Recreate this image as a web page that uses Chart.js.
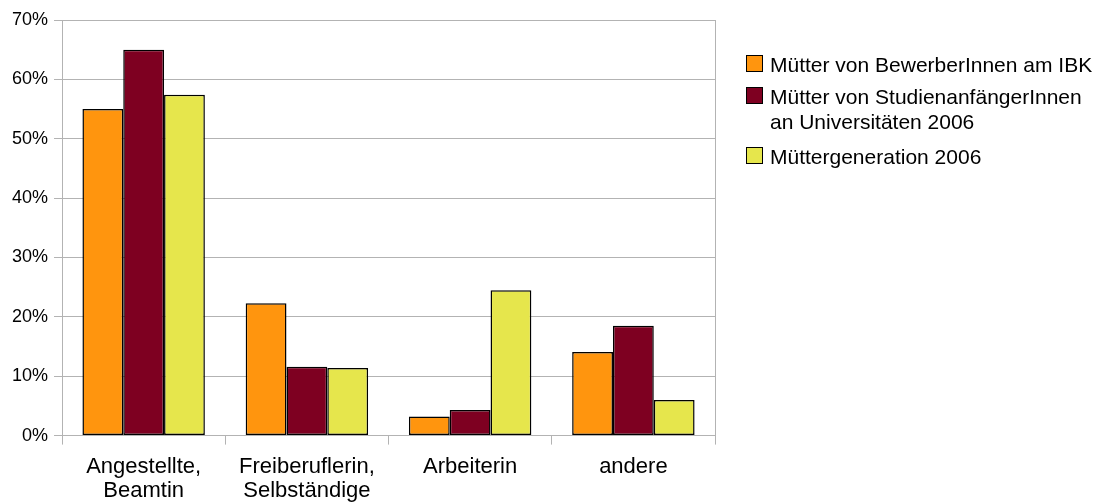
<!DOCTYPE html>
<html>
<head>
<meta charset="utf-8">
<script src="https://cdn.jsdelivr.net/npm/chart.js@4/dist/chart.umd.min.js"></script>
<style>
  body { margin: 0; background: #fff; }
  #wrap { position: relative; width: 1100px; height: 502px; }
  #legend {
    position: absolute; left: 746px; top: 52px;
    font-family: "Liberation Sans", Arial, sans-serif; font-size: 21px; line-height: 25px; color: #000;
  }
  .row { position: relative; padding-left: 24px; }
  .row + .row { margin-top: 7px; }
  .row:last-child { margin-top: 10px; }
  .box { position: absolute; left: 0; top: 3px; width: 17px; height: 17px; border: 1.5px solid #000; box-sizing: border-box; }
</style>
</head>
<body>
<div id="wrap">
  <canvas id="chart"></canvas>
  <div id="legend"></div>
</div>
<script>
const categories = [['Angestellte,', 'Beamtin'], ['Freiberuflerin,', 'Selbständige'], 'Arbeiterin', 'andere'];
const seriesNames = [
  ['Mütter von BewerberInnen am IBK'],
  ['Mütter von StudienanfängerInnen', 'an Universitäten 2006'],
  ['Müttergeneration 2006']
];
const bewerberinnen = [55.0, 22.3, 3.2, 14.1];
const studienanfaenger = [65.0, 11.6, 4.3, 18.5];
const muettergeneration = [57.4, 11.4, 24.5, 6.0];
const colors = ['#ff950e', '#7e0021', '#e6e64c'];

const gridColor = '#b3b3b3';
const font = { family: '"Liberation Sans", Arial, sans-serif' };

// right border of the plot area
const frameRight = {
  id: 'frameRight',
  afterDraw(chart) {
    const { ctx, chartArea } = chart;
    ctx.save();
    ctx.strokeStyle = gridColor;
    ctx.lineWidth = 1;
    ctx.beginPath();
    ctx.moveTo(Math.round(chartArea.right) + 0.5, chartArea.top);
    ctx.lineTo(Math.round(chartArea.right) + 0.5, chartArea.bottom);
    ctx.stroke();
    ctx.restore();
  }
};

const values = [bewerberinnen, studienanfaenger, muettergeneration];

new Chart(document.getElementById('chart'), {
  type: 'bar',
  data: {
    labels: categories,
    datasets: values.map((data, i) => ({
      label: seriesNames[i].join(' '),
      data,
      backgroundColor: colors[i],
      borderColor: '#000',
      borderWidth: 1.5,
      borderSkipped: false,
      categoryPercentage: 0.75,
      barPercentage: 1.0
    }))
  },
  options: {
    responsive: true,
    maintainAspectRatio: false,
    animation: false,
    layout: { padding: { left: 6, right: 385, top: 20, bottom: 0 } },
    plugins: { legend: { display: false }, tooltip: { enabled: false } },
    scales: {
      x: {
        grid: { offset: true, drawOnChartArea: false, color: gridColor, tickLength: 9 },
        border: { color: gridColor },
        ticks: { color: '#000', font: { ...font, size: 22, lineHeight: 1.1 }, padding: 10, maxRotation: 0 },
        // labels may run to the bottom edge, as in the original
        afterFit: scale => { scale.height -= 11; }
      },
      y: {
        min: 0,
        max: 70,
        grid: { color: gridColor, tickLength: 8 },
        border: { color: gridColor },
        ticks: {
          stepSize: 10,
          color: '#000',
          font: { ...font, size: 18 },
          padding: 6,
          callback: v => v + '%'
        }
      }
    }
  },
  plugins: [frameRight]
});

// legend with the wrapped second label
const legend = document.getElementById('legend');
seriesNames.forEach((lines, i) => {
  const row = document.createElement('div');
  row.className = 'row';
  row.innerHTML = `<span class="box" style="background:${colors[i]}"></span>` + lines.join('<br>');
  legend.appendChild(row);
});
</script>
</body>
</html>
